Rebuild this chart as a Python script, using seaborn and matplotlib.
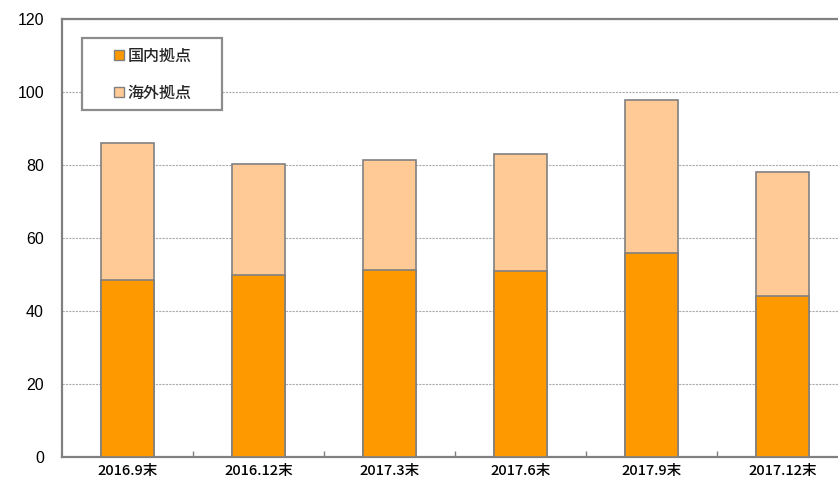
import matplotlib
matplotlib.use("Agg")
import matplotlib.pyplot as plt
from matplotlib.patches import Patch, Rectangle
import seaborn as sns
import pandas as pd

categories = ["2016.9末", "2016.12末", "2017.3末", "2017.6末", "2017.9末", "2017.12末"]
domestic = [48.5, 50.0, 51.1, 51.0, 55.9, 44.2]
overseas = [37.5, 30.4, 30.3, 32.0, 41.9, 33.9]
series_names = ["国内拠点", "海外拠点"]
y_ticks = [0, 20, 40, 60, 80, 100, 120]

totals = [d + o for d, o in zip(domestic, overseas)]
df = pd.DataFrame({"cat": categories, "domestic": domestic, "total": totals})

sns.set_theme(style="white")
plt.rcParams["font.family"] = ["Noto Sans CJK JP", "DejaVu Sans"]

W, H = 838, 482
fig = plt.figure(figsize=(W / 100, H / 100), dpi=100)
ax = fig.add_axes([62 / W, (H - 457) / H, 786 / W, (457 - 19) / H])

c_dom = "#FF9900"
c_ovs = "#FFCA96"
edge = "#808080"

sns.barplot(data=df, x="cat", y="total", color=c_ovs, saturation=1, width=0.405,
            edgecolor=edge, linewidth=1.2, ax=ax, zorder=3)
sns.barplot(data=df, x="cat", y="domestic", color=c_dom, saturation=1, width=0.405,
            edgecolor=edge, linewidth=1.2, ax=ax, zorder=4)

ax.set_xlim(-0.5, len(categories) - 0.5)
ax.set_ylim(0, 120)
ax.set_yticks(y_ticks)
ax.set_yticklabels([str(v) for v in y_ticks], family=["Liberation Sans"], fontsize=11.5)
ax.set_xlabel("")
ax.set_ylabel("")
ax.set_xticks(range(len(categories)))
ax.set_xticklabels(categories, fontsize=10.5, fontweight="medium")
ax.set_xticks([i + 0.5 for i in range(len(categories) - 1)], minor=True)
ax.tick_params(axis="x", which="major", length=0, pad=5, colors="black")
ax.tick_params(axis="x", which="minor", length=4, direction="in", color=edge, width=1, bottom=True)
ax.tick_params(axis="y", length=0, pad=13, colors="black")

ax.yaxis.grid(True, color="#ABABAB", linestyle=(0, (2, 1)), linewidth=0.8, zorder=0)
ax.set_axisbelow(True)

for s in ["left", "top", "bottom"]:
    ax.spines[s].set_visible(True)
    ax.spines[s].set_color(edge)
    ax.spines[s].set_linewidth(1.6)
ax.spines["right"].set_visible(False)

# legend frame
rect = Rectangle((82 / W, 1 - 110 / H), 140 / W, 72 / H, transform=fig.transFigure,
                 facecolor="white", edgecolor="#8C8C8C", linewidth=1.6, zorder=5)
fig.patches.append(rect)
handles = [Patch(facecolor=c_dom, edgecolor=edge, linewidth=1.0),
           Patch(facecolor=c_ovs, edgecolor=edge, linewidth=1.0)]
leg = fig.legend(handles, series_names, loc="center", bbox_to_anchor=(153 / W, 1 - 74.5 / H),
                 frameon=False, prop={"size": 11.5, "weight": "medium"},
                 handlelength=0.6, handleheight=0.6,
                 handletextpad=0.25, labelspacing=1.25, borderpad=0)
leg.set_zorder(6)

fig.savefig("out.png", dpi=100)
